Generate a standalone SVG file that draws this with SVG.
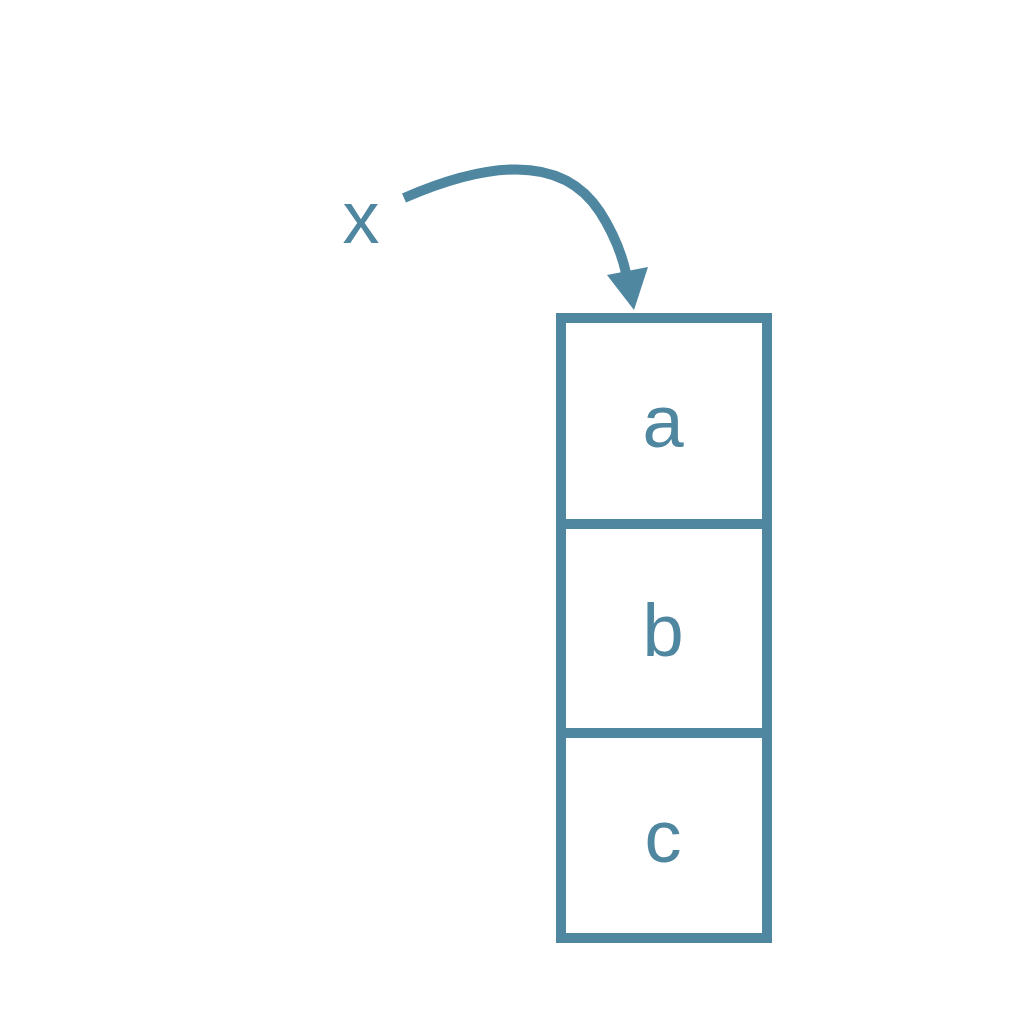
<svg xmlns="http://www.w3.org/2000/svg" width="1024" height="1024" viewBox="0 0 1024 1024">
<style>
.box{fill:none;stroke:#4f87a1;stroke-width:10}
.lbl{font-family:"Liberation Sans",Arial,sans-serif;font-size:74px;fill:#4f87a1;text-anchor:middle}
.conn{fill:none;stroke:#4f87a1;stroke-width:10}
.head{fill:#4f87a1}
</style>
<rect width="1024" height="1024" fill="#ffffff"/>
<g id="label-x"><text class="lbl" x="361" y="243">x</text></g>
<g id="node-a"><rect class="box" x="561" y="318" width="206" height="206"/><text class="lbl" x="663" y="447">a</text></g>
<g id="node-b"><rect class="box" x="561" y="524" width="206" height="209"/><text class="lbl" x="663" y="656">b</text></g>
<g id="node-c"><rect class="box" x="561" y="733" width="206" height="205"/><text class="lbl" x="663" y="862">c</text></g>
<g id="connectors">
<path class="conn" d="M404,198 C480,165 560,150 600,212 C614,234 622,255 626,273"/>
<polygon class="head" points="607,275 648,267 634,310"/>
</g>
</svg>
